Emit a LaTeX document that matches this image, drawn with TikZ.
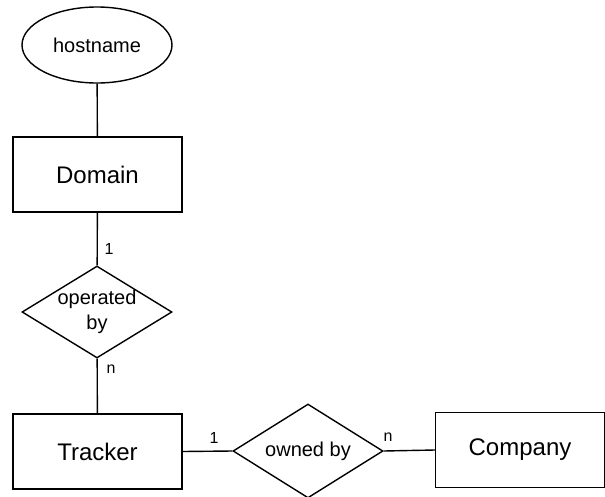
\documentclass[tikz,border=0pt]{standalone}
\usepackage{fontspec}
\setmainfont{Liberation Sans}
\usetikzlibrary{shapes.geometric}
\begin{document}
\begin{tikzpicture}[x=1pt,y=-1pt,
  every path/.style={line width=1.4pt},
  entity/.style={draw, line width=1.4pt, rectangle, minimum width=169pt, minimum height=75pt, inner sep=0pt, font=\fontsize{24}{28}\selectfont},
  attr/.style={draw, line width=1.4pt, ellipse, minimum width=150pt, minimum height=76pt, inner sep=0pt, font=\fontsize{20}{24}\selectfont},
  rel/.style={draw, line width=1.4pt, diamond, minimum width=150pt, minimum height=92pt, inner sep=0pt},
  rtext/.style={font=\fontsize{20}{25}\selectfont, align=center},
  card/.style={font=\fontsize{16}{19}\selectfont, inner sep=0pt}
]
\useasboundingbox (0,0) rectangle (605,496);
\node[attr] (host) at (97,45) {hostname};
\node[entity] (dom) at (97.5,174.5) {Domain};
\node[rel, label={[rtext]center:operated\\by}] (op) at (97,312) {};
\node[entity] (tr) at (97.5,451.5) {Tracker};
\node[rel, minimum height=94pt, label={[rtext]center:owned by}] (own) at (308,451) {};
\node[entity] (comp) at (520,450) {Company};
\draw (host) -- (dom);
\draw (dom) -- (op);
\draw (op) -- (tr);
\draw (tr.east) -- (own.west);
\draw (own.east) -- (comp.west);
\node[card] (c1) at (109,249) {1};
\node[card] (c2) at (111,369) {n};
\node[card] (c3) at (214,438) {1};
\node[card] (c4) at (388,437) {n};
\end{tikzpicture}
\end{document}
